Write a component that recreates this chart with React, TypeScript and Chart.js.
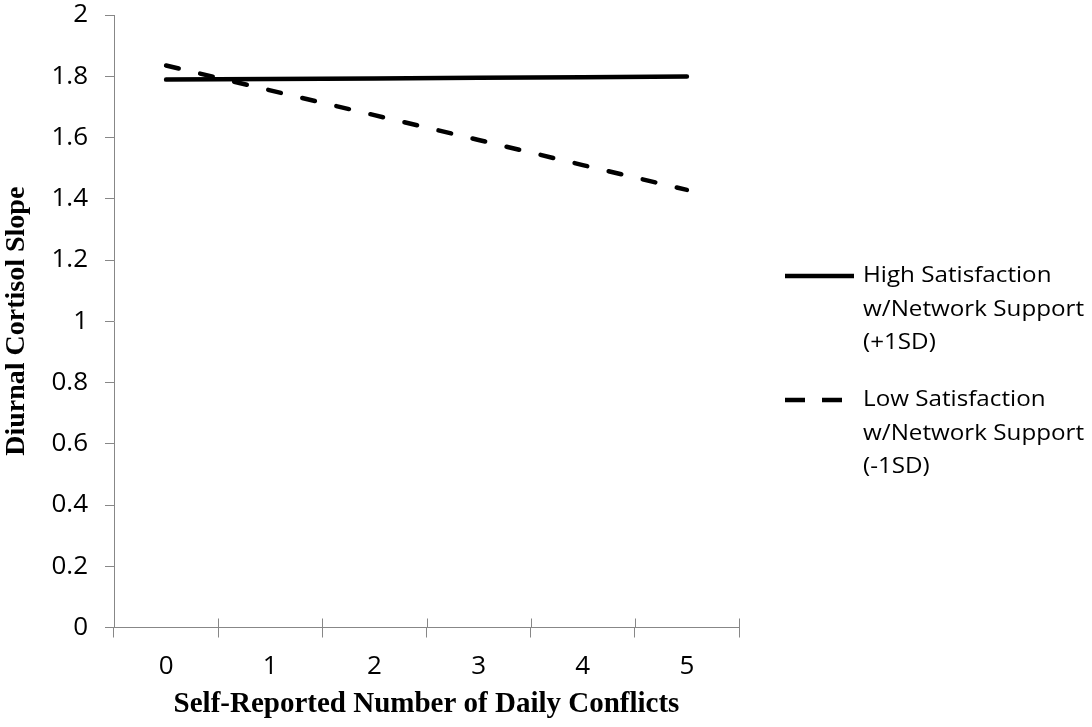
import React, { useEffect, useRef } from "react";
import { Chart, registerables } from "chart.js";

Chart.register(...registerables);

// ---- data ----
const categories = ["0", "1", "2", "3", "4", "5"];
const highSupport = [1.789, 1.791, 1.793, 1.795, 1.797, 1.799];
const lowSupport = [1.835, 1.754, 1.673, 1.592, 1.51, 1.429];
const highLabelLines = ["High Satisfaction", "w/Network Support", "(+1SD)"];
const lowLabelLines = ["Low Satisfaction", "w/Network Support", "(-1SD)"];
const yTickLabels = ["0", "0.2", "0.4", "0.6", "0.8", "1", "1.2", "1.4", "1.6", "1.8", "2"];
const xTitle = "Self-Reported Number of Daily Conflicts";
const yTitle = "Diurnal Cortisol Slope";

const AXIS_COLOR = "#878787";
const TICK_FONT = { family: "'Open Sans', sans-serif", size: 26 };
const X_TITLE_FONT = { family: "'Liberation Serif', 'Times New Roman', serif", size: 29, weight: "bold" as const };
const Y_TITLE_FONT = { family: "'Liberation Serif', 'Times New Roman', serif", size: 28, weight: "bold" as const };
const LEGEND_FONT = "22px 'Open Sans', sans-serif";
const LEGEND_STRETCH = 1.1;

const legendLayout = [
  { lines: highLabelLines, y: 276, sampleStart: 46, sampleEnd: 115, textX: 124 },
  { lines: lowLabelLines, y: 400, sampleStart: 46, sampleEnd: 103, textX: 124 },
];

const legendPlugin = {
  id: "multiLineLegend",
  afterDraw(chart: any) {
    const { ctx, chartArea } = chart;
    const r = chartArea.right;
    ctx.save();
    chart.data.datasets.forEach((ds: any, i: number) => {
      const L = legendLayout[i];
      ctx.strokeStyle = ds.borderColor;
      ctx.lineWidth = ds.borderWidth;
      ctx.lineCap = "butt";
      ctx.setLineDash(ds.legendDash || []);
      ctx.beginPath();
      ctx.moveTo(r + L.sampleStart, L.y);
      ctx.lineTo(r + L.sampleEnd, L.y);
      ctx.stroke();
      ctx.setLineDash([]);
      ctx.fillStyle = "#000";
      ctx.font = LEGEND_FONT;
      ctx.textBaseline = "middle";
      ctx.textAlign = "left";
      L.lines.forEach((t: string, k: number) => {
        ctx.save();
        ctx.translate(r + L.textX, L.y + k * 33.5);
        ctx.scale(LEGEND_STRETCH, 1);
        ctx.fillText(t, 0, 0);
        ctx.restore();
      });
    });
    ctx.restore();
  },
};

const crossTickPlugin = {
  id: "crossTicks",
  afterDraw(chart: any) {
    const { ctx } = chart;
    const xs = chart.scales.x;
    ctx.save();
    ctx.strokeStyle = AXIS_COLOR;
    ctx.lineWidth = 1;
    for (let i = 0; i <= categories.length; i++) {
      const px = Math.round(xs.getPixelForValue(i - 0.5)) + 0.5;
      ctx.beginPath();
      ctx.moveTo(px, xs.top);
      ctx.lineTo(px, xs.top - 9);
      ctx.stroke();
    }
    ctx.restore();
  },
};

export default function App() {
  const ref = useRef<HTMLCanvasElement | null>(null);

  useEffect(() => {
    if (!ref.current) return;
    const chart = new Chart(ref.current, {
      type: "line",
      data: {
        labels: categories,
        datasets: [
          {
            label: highLabelLines.join(" "),
            data: highSupport,
            borderColor: "#000",
            borderWidth: 4.5,
            pointRadius: 0,
            fill: false,
            tension: 0,
            borderCapStyle: "round",
            legendDash: [],
          } as any,
          {
            label: lowLabelLines.join(" "),
            data: lowSupport,
            borderColor: "#000",
            borderWidth: 4.5,
            borderDash: [13, 22],
            borderCapStyle: "round",
            pointRadius: 0,
            fill: false,
            tension: 0,
            legendDash: [20, 17],
          } as any,
        ],
      },
      options: {
        responsive: false,
        animation: false,
        devicePixelRatio: 1,
        layout: { padding: { top: 15, right: 353, bottom: 0, left: 0 } },
        plugins: {
          legend: { display: false },
          tooltip: { enabled: false },
          title: { display: false },
        },
        scales: {
          x: {
            type: "category",
            offset: true,
            grid: {
              offset: true,
              drawOnChartArea: false,
              color: AXIS_COLOR,
              tickLength: 10,
            },
            border: { color: AXIS_COLOR, width: 1 },
            ticks: { color: "#000", font: TICK_FONT, padding: 13, maxRotation: 0 },
            title: {
              display: true,
              text: xTitle,
              color: "#000",
              font: X_TITLE_FONT,
              padding: { top: 0, bottom: 5 },
            },
            afterFit: (scale: any) => {
              scale.height = 99.5;
              scale.paddingLeft = 0;
              scale.paddingRight = 0;
            },
          },
          y: {
            min: 0,
            max: 2,
            grid: {
              drawOnChartArea: false,
              color: AXIS_COLOR,
              tickLength: 9,
            },
            border: { color: AXIS_COLOR, width: 1 },
            ticks: {
              stepSize: 0.2,
              color: "#000",
              font: TICK_FONT,
              padding: 17,
              callback: (v: any) => yTickLabels[Math.round(Number(v) * 5)],
            },
            title: {
              display: true,
              text: yTitle,
              color: "#000",
              font: Y_TITLE_FONT,
              padding: { top: 0, bottom: 0 },
            },
            afterFit: (scale: any) => {
              scale.width = 114;
              scale.paddingTop = 0;
              scale.paddingBottom = 0;
            },
          },
        },
      } as any,
      plugins: [legendPlugin, crossTickPlugin],
    });
    return () => chart.destroy();
  }, []);

  return (
    <div style={{ position: "absolute", left: 0, top: 0, width: 1092, height: 727, background: "#fff" }}>
      <canvas ref={ref} width={1092} height={727} style={{ width: 1092, height: 727, display: "block" }} />
    </div>
  );
}
